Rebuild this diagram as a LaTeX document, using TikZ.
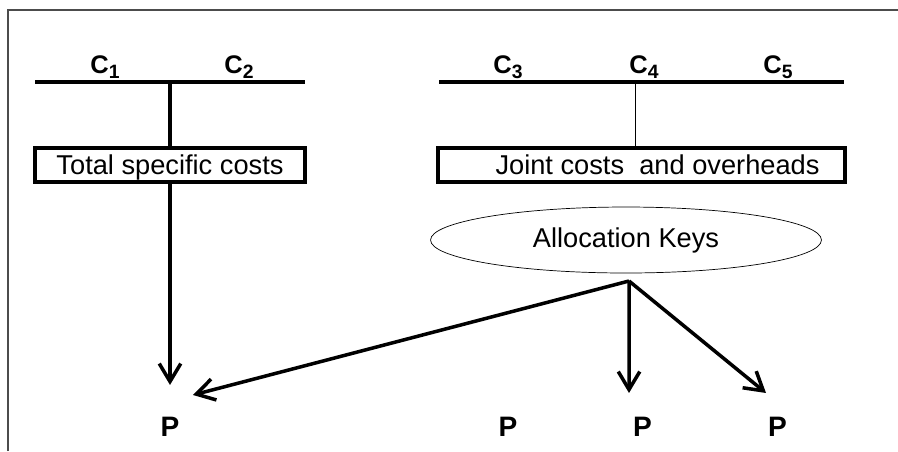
\documentclass[tikz,border=0pt]{standalone}
\usepackage{fontspec}
\setmainfont{Liberation Sans}
\usetikzlibrary{arrows.meta}
\usetikzlibrary{shapes.geometric}
\newcommand{\costlab}[1]{\textbf{C\raisebox{-3pt}{\fontsize{11}{12}\selectfont #1}}}

\begin{document}
\begin{tikzpicture}[x=0.02cm,y=-0.02cm,
  bar/.style={line width=2.2pt},
  costbox/.style={draw,line width=2pt,minimum height=0.68cm,inner sep=0pt,text depth=0pt,font=\fontsize{15.5}{18}\selectfont},
  clab/.style={anchor=base west,inner sep=0pt,font=\fontsize{14.5}{17}\selectfont},
  prod/.style={inner sep=0pt,font=\fontsize{16}{18}\selectfont\bfseries},
  flow/.style={line width=2pt,-{Straight Barb[length=3.6mm,width=4.3mm]}}
]
\useasboundingbox (0,0) rectangle (898,451);
\draw[black!70,line width=0.9pt] (8,451) -- (8,10) -- (898,10);

% specific costs
\coordinate (l1) at (35,82);
\coordinate (l2) at (305,82);
\coordinate (l3) at (170,82);
\draw[bar] (l1) -- (l2);
\node[clab] (c1) at (90,73) {\costlab{1}};
\node[clab] (c2) at (224,73) {\costlab{2}};
\node[costbox,minimum width=5.4cm] (tsc) at (170,165) {Total specific costs};
\draw[line width=1.8pt] (l3) -- (tsc.north);

% joint costs
\coordinate (r1) at (439,82);
\coordinate (r2) at (844,82);
\coordinate (r3) at (635,82);
\draw[bar] (r1) -- (r2);
\node[clab] (c3) at (493,73) {\costlab{3}};
\node[clab] (c4) at (629,73) {\costlab{4}};
\node[clab] (c5) at (763,73) {\costlab{5}};
\node[costbox,minimum width=8.14cm] (jc) at (641.5,165) {\hspace*{0.64cm}Joint costs\ \ and overheads};
\draw[thin] (r3) -- (r3 |- jc.north);

\node[draw,ellipse,thin,minimum width=7.82cm,minimum height=1.32cm,inner sep=0pt,font=\fontsize{15.5}{18}\selectfont] (keys) at (626,240) {Allocation Keys};
\coordinate (split) at (629,281);

% products
\node[prod] (p1) at (170,427) {P};
\node[prod] (p2) at (508,427) {P};
\node[prod] (p3) at (642.5,427) {P};
\node[prod] (p4) at (777.5,427) {P};

\draw[flow] (tsc.south) -- ([yshift=0.64cm]p1.north);
\draw[flow] (split) -- ([xshift=0.46cm,yshift=0.44cm]p1.north);
\draw[flow] (split) -- ([xshift=-0.27cm,yshift=0.48cm]p3.north);
\draw[flow] (split) -- ([xshift=-0.23cm,yshift=0.48cm]p4.north);
\end{tikzpicture}
\end{document}
